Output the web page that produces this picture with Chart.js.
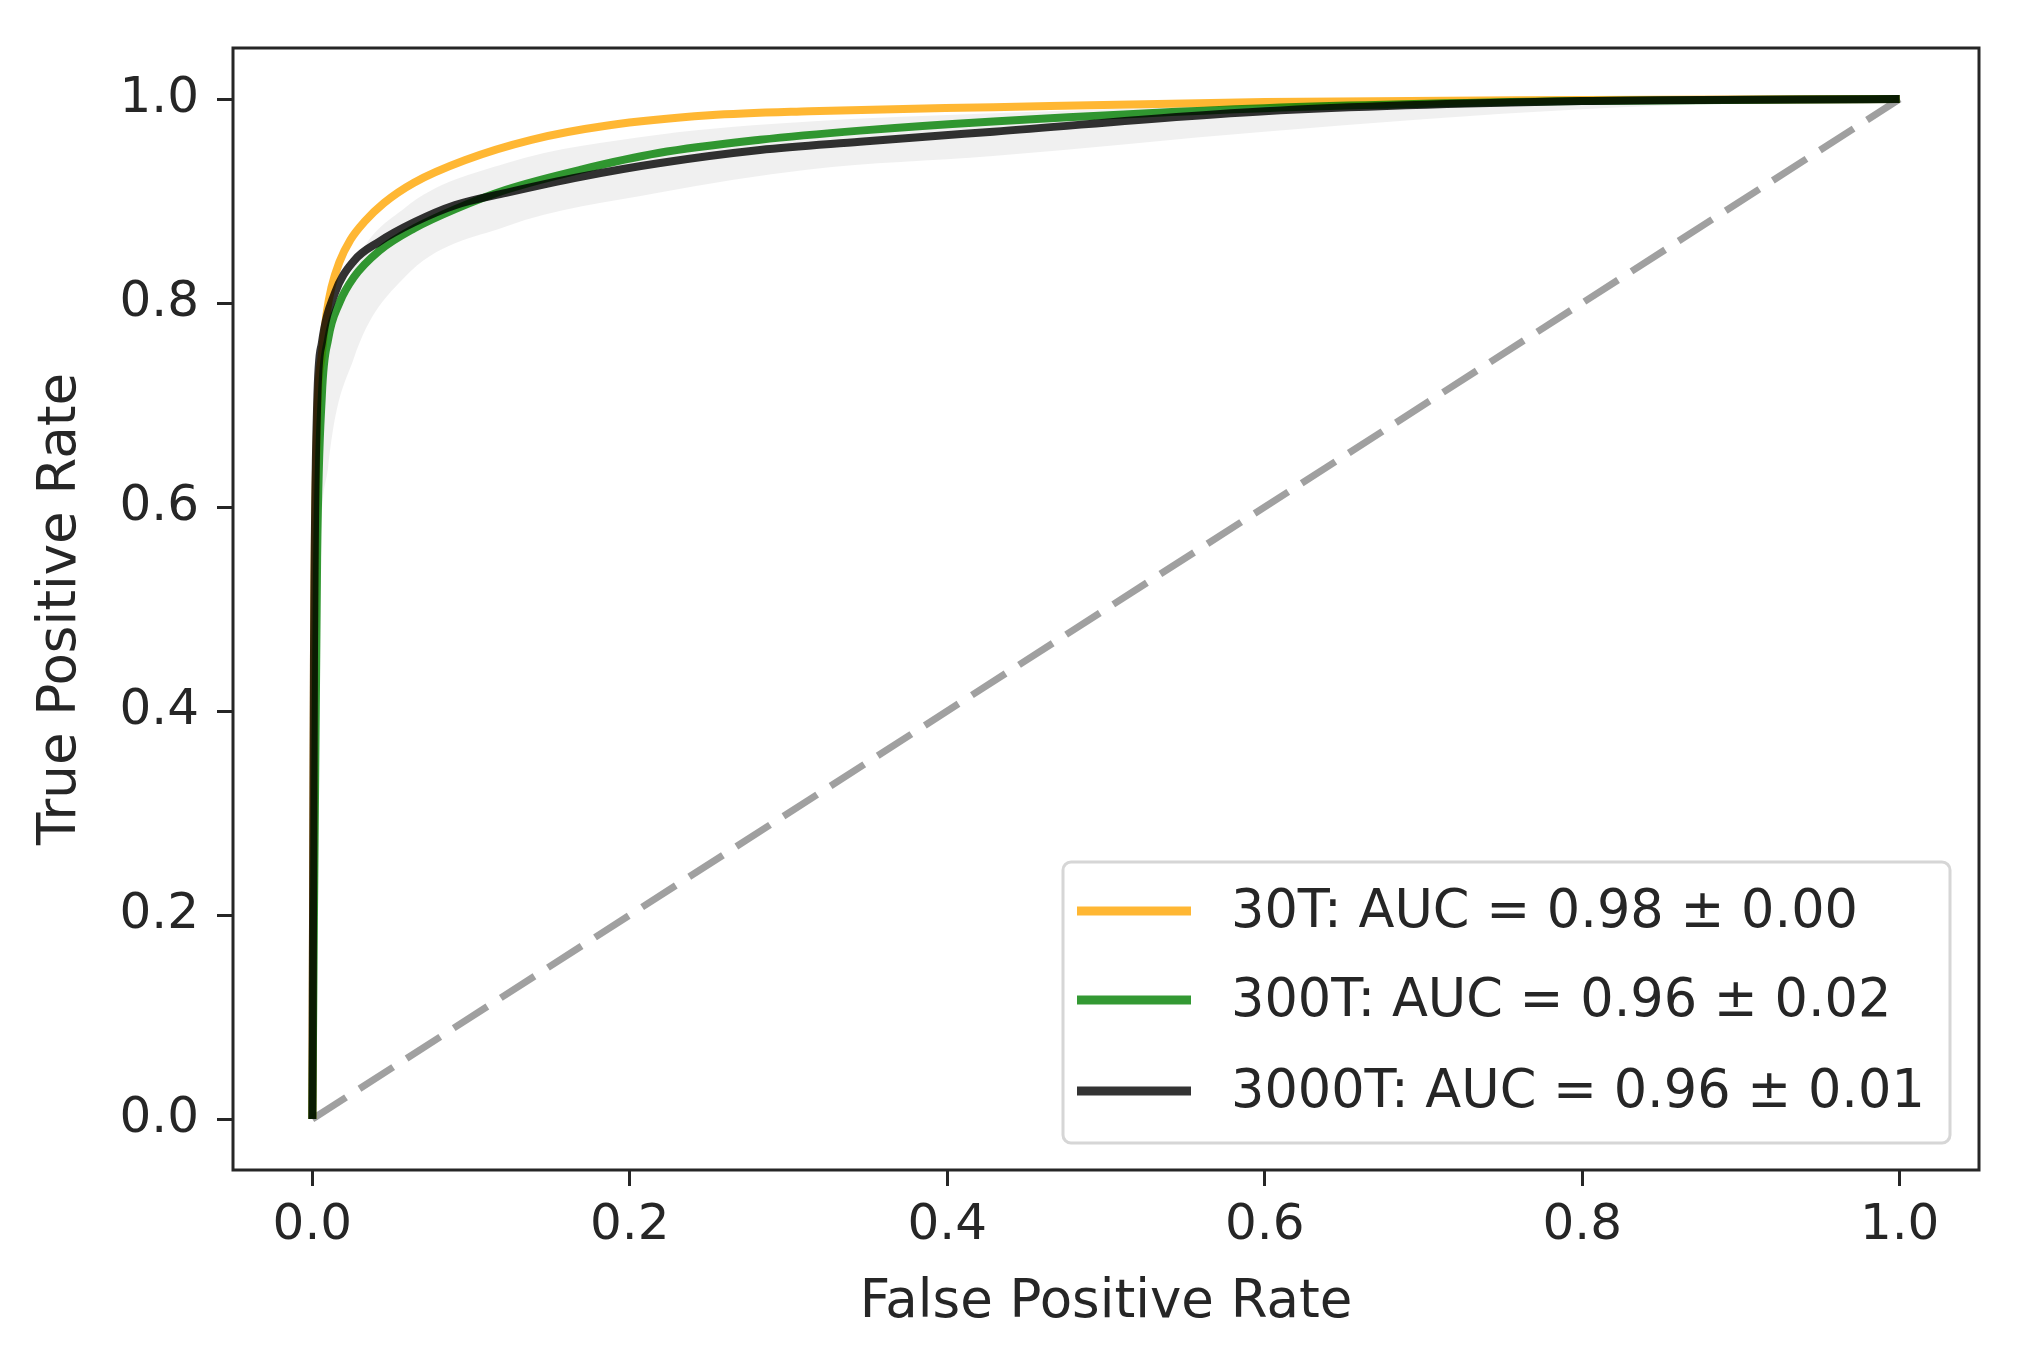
<!DOCTYPE html>
<html>
<head>
<meta charset="utf-8">
<script src="https://cdn.jsdelivr.net/npm/chart.js@4.4.1/dist/chart.umd.min.js"></script>
<style>
  body { margin: 0; background: #fff; }
  canvas { display: block; }
</style>
</head>
<body>
<canvas id="roc" width="2019" height="1353"></canvas>
<script>
// ROC curves, values
const fpr30  = [0, 0.001, 0.003, 0.006, 0.009, 0.012, 0.017, 0.024, 0.033, 0.045, 0.064, 0.096, 0.138, 0.186, 0.25, 0.313, 0.429, 0.6, 0.8, 1.0];
const tpr30  = [0, 0.45, 0.68, 0.75, 0.790, 0.815, 0.840, 0.862, 0.880, 0.898, 0.918, 0.940, 0.960, 0.974, 0.984, 0.988, 0.992, 0.997, 0.999, 1.0];

const fpr300 = [0, 0.003, 0.006, 0.010, 0.017, 0.026, 0.042, 0.064, 0.090, 0.122, 0.170, 0.218, 0.282, 0.345, 0.429, 0.6, 0.8, 1.0];
const tpr300 = [0, 0.55, 0.71, 0.765, 0.800, 0.825, 0.851, 0.873, 0.892, 0.911, 0.931, 0.947, 0.960, 0.969, 0.978, 0.991, 0.998, 1.0];

const fpr3000 = [0, 0.001, 0.003, 0.006, 0.014, 0.026, 0.042, 0.064, 0.090, 0.122, 0.170, 0.218, 0.282, 0.345, 0.429, 0.6, 0.8, 1.0];
const tpr3000 = [0, 0.45, 0.70, 0.761, 0.809, 0.841, 0.860, 0.879, 0.896, 0.908, 0.924, 0.937, 0.950, 0.958, 0.968, 0.988, 0.998, 1.0];

// light grey spread of the individual runs
const fprBand  = [0, 0.004, 0.010, 0.026, 0.058, 0.122, 0.218, 0.313, 0.429, 0.6, 0.8, 1.0];
const bandLow  = [0, 0.50, 0.64, 0.745, 0.825, 0.875, 0.908, 0.931, 0.944, 0.968, 0.990, 1.0];
const bandHigh = [0, 0.62, 0.75, 0.835, 0.893, 0.937, 0.965, 0.978, 0.986, 0.994, 0.999, 1.0];

// chance line
const chanceX = [0, 1];
const chanceY = [0, 1];

const xTicks = [0, 0.2, 0.4, 0.6, 0.8, 1.0];
const yTicks = [0, 0.2, 0.4, 0.6, 0.8, 1.0];

const seriesLabels = ['30T: AUC = 0.98 \u00b1 0.00', '300T: AUC = 0.96 \u00b1 0.02', '3000T: AUC = 0.96 \u00b1 0.01'];
const seriesColors = ['rgba(255,165,0,0.8)', 'rgba(0,128,0,0.8)', 'rgba(0,0,0,0.8)'];

const FONT = 'DejaVu Sans';
const TEXT = '#262626';

function pts(xs, ys) {
    return xs.map((x, i) => ({ x: x, y: ys[i] }));
}

// frame around the plot area
const framePlugin = {
    id: 'frame',
    afterDatasetsDraw(chart) {
        const a = chart.chartArea;
        const ctx = chart.ctx;
        ctx.save();
        ctx.strokeStyle = TEXT;
        ctx.lineWidth = 3;
        ctx.strokeRect(a.left, a.top, a.right - a.left, a.bottom - a.top);
        ctx.restore();
    }
};

// matplotlib-like legend box in the lower right corner
const legendPlugin = {
    id: 'boxLegend',
    afterDraw(chart) {
        const a = chart.chartArea;
        const ctx = chart.ctx;
        const w = 887, h = 281;
        const x0 = a.right - 29 - w;
        const y0 = a.bottom - 27 - h;
        ctx.save();
        ctx.beginPath();
        ctx.roundRect(x0, y0, w, h, 8);
        ctx.fillStyle = 'rgba(255,255,255,0.85)';
        ctx.fill();
        ctx.lineWidth = 3;
        ctx.strokeStyle = '#d6d6d6';
        ctx.stroke();

        const rows = [49, 138, 229];
        ctx.font = '52.5px "' + FONT + '"';
        ctx.textBaseline = 'middle';
        ctx.textAlign = 'left';
        seriesLabels.forEach((label, i) => {
            const y = y0 + rows[i];
            ctx.strokeStyle = seriesColors[i];
            ctx.lineWidth = 9;
            ctx.beginPath();
            ctx.moveTo(x0 + 14, y);
            ctx.lineTo(x0 + 128, y);
            ctx.stroke();
            ctx.fillStyle = TEXT;
            ctx.fillText(label, x0 + 168, y + 2);
        });
        ctx.restore();
    }
};

const curveStyle = {
    pointRadius: 0,
    borderWidth: 8,
    fill: false,
    cubicInterpolationMode: 'monotone'
};

new Chart(document.getElementById('roc').getContext('2d'), {
    type: 'line',
    data: {
        datasets: [
            { label: 'band low', data: pts(fprBand, bandLow), borderWidth: 0, pointRadius: 0,
              borderColor: 'rgba(0,0,0,0)', fill: false, cubicInterpolationMode: 'monotone', order: 10 },
            { label: 'band high', data: pts(fprBand, bandHigh), borderWidth: 0, pointRadius: 0,
              borderColor: 'rgba(0,0,0,0)', backgroundColor: 'rgba(0,0,0,0.06)', fill: '-1',
              cubicInterpolationMode: 'monotone', order: 9 },
            { label: 'chance', data: pts(chanceX, chanceY), borderColor: 'rgba(128,128,128,0.75)',
              borderWidth: 7, borderDash: [40, 16], pointRadius: 0, fill: false, order: 5 },
            Object.assign({ label: seriesLabels[0], data: pts(fpr30, tpr30), borderColor: seriesColors[0], order: 3 }, curveStyle),
            Object.assign({ label: seriesLabels[1], data: pts(fpr300, tpr300), borderColor: seriesColors[1], order: 2 }, curveStyle),
            Object.assign({ label: seriesLabels[2], data: pts(fpr3000, tpr3000), borderColor: seriesColors[2], order: 1 }, curveStyle)
        ]
    },
    options: {
        responsive: false,
        animation: false,
        devicePixelRatio: 1,
        layout: { padding: { top: 25, right: 40, left: 0, bottom: 0 } },
        plugins: {
            legend: { display: false },
            tooltip: { enabled: false }
        },
        scales: {
            x: {
                type: 'linear',
                min: -0.05,
                max: 1.05,
                afterBuildTicks: s => { s.ticks = xTicks.map(v => ({ value: v })); },
                afterFit: s => { s.height = 183; },
                grid: { drawOnChartArea: false, drawTicks: true, tickLength: 16, tickWidth: 3, tickColor: TEXT },
                border: { display: false },
                ticks: {
                    padding: 10,
                    color: TEXT,
                    font: { family: FONT, size: 50 },
                    maxRotation: 0,
                    callback: v => Number(v).toFixed(1)
                },
                title: {
                    display: true,
                    text: 'False Positive Rate',
                    color: TEXT,
                    font: { family: FONT, size: 53 },
                    padding: { top: 0, bottom: 18 }
                }
            },
            y: {
                type: 'linear',
                min: -0.05,
                max: 1.05,
                afterBuildTicks: s => { s.ticks = yTicks.map(v => ({ value: v })); },
                afterFit: s => { s.width = 233; },
                grid: { drawOnChartArea: false, drawTicks: true, tickLength: 16, tickWidth: 3, tickColor: TEXT },
                border: { display: false },
                ticks: {
                    padding: 18,
                    color: TEXT,
                    font: { family: FONT, size: 50 },
                    callback: v => Number(v).toFixed(1)
                },
                title: {
                    display: true,
                    text: 'True Positive Rate',
                    color: TEXT,
                    font: { family: FONT, size: 53 },
                    padding: { top: 29, bottom: 0 }
                }
            }
        }
    },
    plugins: [framePlugin, legendPlugin]
});
</script>
</body>
</html>
